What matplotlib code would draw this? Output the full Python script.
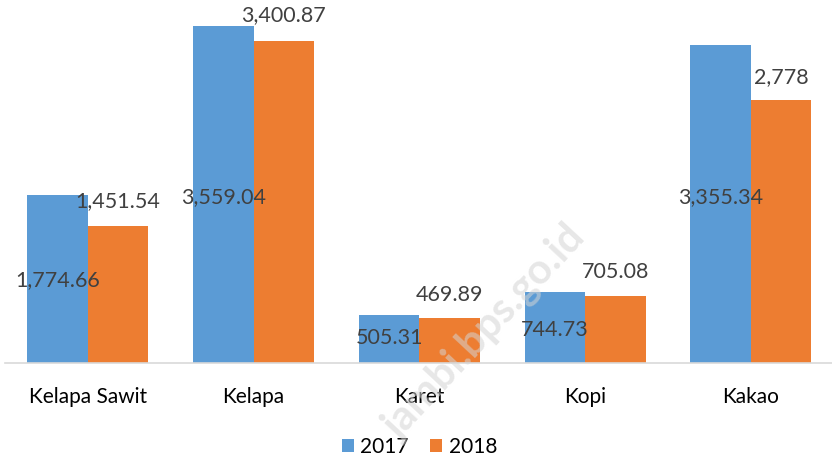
import matplotlib.pyplot as plt
import numpy as np

plt.rcParams['font.family'] = ['Lato', 'DejaVu Sans']

categories = ['Kelapa Sawit', 'Kelapa', 'Karet', 'Kopi', 'Kakao']
val_2017 = [1774.66, 3559.04, 505.31, 744.73, 3355.34]
val_2018 = [1451.54, 3400.87, 469.89, 705.08, 2778]
lbl_2017 = ['1,774.66', '3,559.04', '505.31', '744.73', '3,355.34']
lbl_2018 = ['1,451.54', '3,400.87', '469.89', '705.08', '2,778']
# where the data labels sit (data units), like the original Excel chart
pos_2017 = [876, 1753, 264, 348, 1753]
pos_2018 = [1711, 3675, 718, 961, 3020]

blue = '#5B9BD5'
orange = '#ED7D31'

fig = plt.figure(figsize=(8.32, 4.63), dpi=100)
ax = fig.add_axes([0.006, 0.216, 0.996, 0.784])

x = np.arange(len(categories))
w = 0.365
ax.bar(x - w/2, val_2017, w, color=blue, label='2017')
ax.bar(x + w/2, val_2018, w, color=orange, label='2018')

for i in range(len(categories)):
    ax.text(x[i] - w/2, pos_2017[i], lbl_2017[i], ha='center', va='center',
            fontsize=15.5, color='#404040')
    ax.text(x[i] + w/2, pos_2018[i], lbl_2018[i], ha='center', va='center',
            fontsize=15.5, color='#404040')

ax.set_xlim(-0.5, 4.5)
ax.set_ylim(0, 3833)
ax.set_yticks([])
ax.set_xticks(x)
ax.set_xticklabels(categories, fontsize=15, color='#000000')
ax.tick_params(axis='x', length=0, pad=17)
for s in ['top', 'right', 'left']:
    ax.spines[s].set_visible(False)
ax.spines['bottom'].set_color('#d9d9d9')
ax.spines['bottom'].set_linewidth(1.2)

ax.legend(loc='center', bbox_to_anchor=(0.5, -0.232), ncol=2, frameon=False,
          fontsize=15, handlelength=0.6, handleheight=0.6, handletextpad=0.3,
          columnspacing=1.0)

# watermark
fig.text(0.695, 0.50, 'jambi.bps.go.id', fontsize=30, fontweight='bold',
         color='#d4d4d4', alpha=0.55, rotation=47, ha='right', va='center',
         rotation_mode='anchor')

plt.savefig('out.png', dpi=100)
